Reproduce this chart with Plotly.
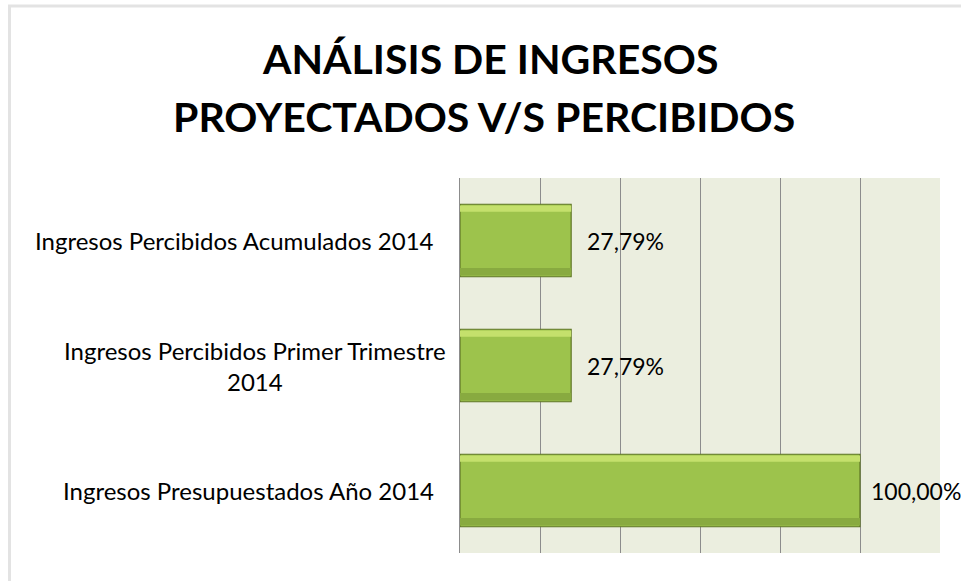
import plotly.graph_objects as go

categories = ["Ingresos Presupuestados Año 2014",
              "Ingresos Percibidos Primer Trimestre<br>2014",
              "Ingresos Percibidos Acumulados 2014"]
values = [100.0, 27.79, 27.79]
x_ticks = [0, 20, 40, 60, 80, 100, 120]
title_lines = ["ANÁLISIS DE INGRESOS", "PROYECTADOS V/S PERCIBIDOS"]

W, H = 961, 581
L, R, T, B = 460, 21, 178, 28
pw, ph = W - L - R, H - T - B
FONT = "Lato, Open Sans, sans-serif"


def px_x(p):
    return (p - L) / pw


def px_y(p):
    return 1 - (p - T) / ph


fig = go.Figure()
# main bar body (with dark olive edge)
fig.add_trace(go.Bar(
    y=categories, x=values, orientation="h", width=0.58,
    marker=dict(color="#9DC34C", line=dict(color="#5E7524", width=1.2)),
    hoverinfo="skip",
))
# light top highlight strip (bevel)
fig.add_trace(go.Bar(
    y=categories, x=values, orientation="h", width=0.05, offset=0.23,
    marker=dict(color="#C4E06C", line=dict(width=0)), hoverinfo="skip",
))
# darker bottom strip (bevel)
fig.add_trace(go.Bar(
    y=categories, x=values, orientation="h", width=0.06, offset=-0.28,
    marker=dict(color="#88AA40", line=dict(width=0)), hoverinfo="skip",
))

# value labels
for c, v, xs in zip(categories, values, [9, 14, 14]):
    fig.add_annotation(
        x=v, xref="x", y=c, yref="y", xanchor="left", xshift=xs,
        text=f"{v:.2f}".replace(".", ",") + "%", showarrow=False,
        font=dict(family=FONT, size=23, color="#000000"),
    )

# category labels (multi-line centered like the original)
label_right = [436, 448, 436]
for c, xr in zip(categories, label_right):
    fig.add_annotation(
        x=px_x(xr), xref="paper", y=c, yref="y",
        text=c, showarrow=False, xanchor="right", align="center",
        font=dict(family=FONT, size=24, color="#000000"),
    )

# title as two lines
for txt, cx, cy in zip(title_lines, [490, 484], [59, 117]):
    fig.add_annotation(
        x=px_x(cx), xref="paper", y=px_y(cy), yref="paper",
        text=f"<b>{txt}</b>", showarrow=False, xanchor="center", yanchor="middle",
        font=dict(family=FONT, size=41, color="#000000"),
    )

# outer frame (left and top edges)
fig.add_shape(type="line", xref="paper", yref="paper",
              x0=px_x(9.5), x1=px_x(9.5), y0=px_y(5), y1=px_y(H + 5),
              line=dict(color="#E3E3E3", width=3), layer="below")
fig.add_shape(type="line", xref="paper", yref="paper",
              x0=px_x(8), x1=px_x(W + 5), y0=px_y(6), y1=px_y(6),
              line=dict(color="#E3E3E3", width=3), layer="below")

fig.update_layout(
    width=W, height=H,
    margin=dict(l=L, r=R, t=T, b=B),
    paper_bgcolor="#FFFFFF", plot_bgcolor="#EBEEDF",
    showlegend=False,
    barmode="overlay",
    xaxis=dict(range=[0, 120], tickvals=x_ticks, showticklabels=False,
               showgrid=True, gridcolor="#8C8C8C", gridwidth=1,
               zeroline=False, showline=False, fixedrange=True),
    yaxis=dict(showticklabels=False, showgrid=False, zeroline=False,
               showline=True, linecolor="#8C8C8C", linewidth=1,
               categoryorder="array", categoryarray=categories, fixedrange=True),
)

fig.write_html("out.html", config={"displayModeBar": False},
               post_script="document.body.style.margin='0';document.body.style.overflow='hidden';")
